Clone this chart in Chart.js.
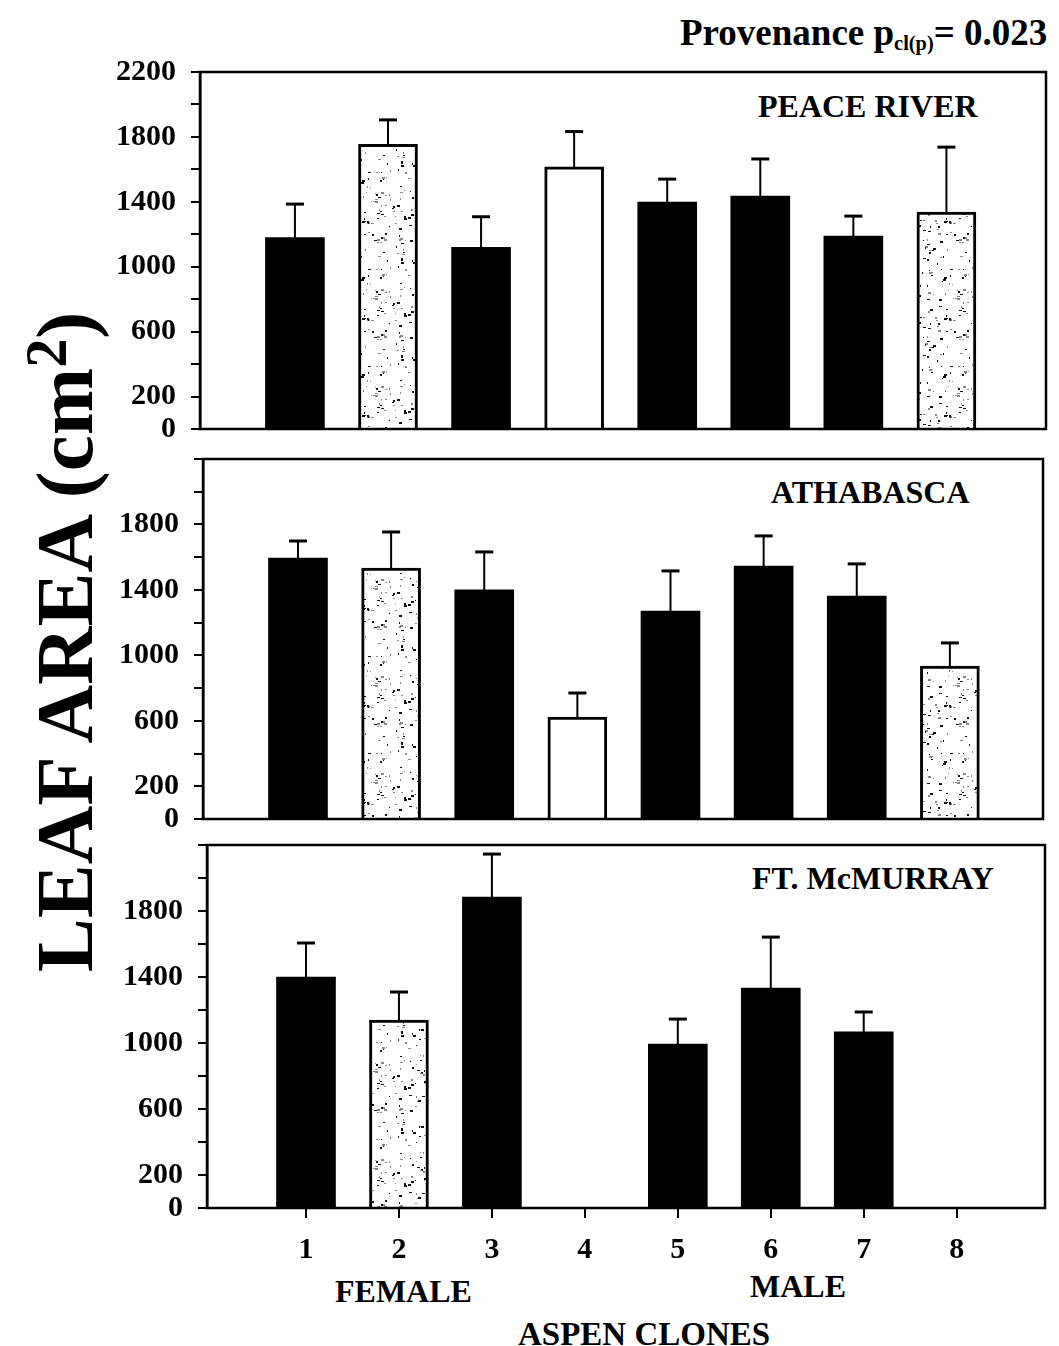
<!DOCTYPE html>
<html>
<head>
<meta charset="utf-8">
<script src="https://cdn.jsdelivr.net/npm/chart.js@4.4.1/dist/chart.umd.min.js"></script>
<style>
  body { margin: 0; background: #fff; }
  #page {
    position: relative; width: 1059px; height: 1346px; overflow: hidden;
    font-family: "Liberation Serif", "Times New Roman", serif; font-weight: bold; color: #000;
  }
  canvas { position: absolute; left: 0; }
  .lbl { position: absolute; white-space: nowrap; line-height: 1; }
  .lbl sub { font-size: 0.55em; vertical-align: -0.25em; }
  #ytitle {
    left: 62px; top: 642px; font-size: 81px;
    transform: translate(-50%, -50%) rotate(-90deg);
  }
  #ytitle sup { font-size: 0.72em; vertical-align: 0.45em; }
</style>
</head>
<body>
<div id="page">
  <div class="lbl" style="left:680px; top:14px; font-size:37px;">Provenance p<sub>cl(p)</sub>= 0.023</div>
  <div class="lbl" id="ytitle">LEAF AREA (cm<sup>2</sup>)</div>

  <div class="lbl" style="left:758px; top:90px; font-size:32px;">PEACE RIVER</div>
  <div class="lbl" style="left:771px; top:476px; font-size:32px;">ATHABASCA</div>
  <div class="lbl" style="left:752px; top:862px; font-size:32px;">FT. McMURRAY</div>

  <div class="lbl" style="left:335px; top:1275px; font-size:32px;">FEMALE</div>
  <div class="lbl" style="left:750px; top:1270px; font-size:32px;">MALE</div>
  <div class="lbl" style="left:518px; top:1318px; font-size:33px;">ASPEN CLONES</div>

  <canvas id="c1" width="1059" height="400" style="top:50px"></canvas>
  <canvas id="c2" width="1059" height="404" style="top:437px"></canvas>
  <canvas id="c3" width="1059" height="445" style="top:823px"></canvas>
</div>

<script>
// clones on the x axis
const CLONES = [1, 2, 3, 4, 5, 6, 7, 8];

// leaf area means and upper error (cm2)
const PEACE_MEAN = [1180, 1755, 1120, 1615, 1398, 1436, 1189, 1337];
const PEACE_ERR  = [206, 150, 188, 218, 142, 228, 123, 400];

const ATHA_MEAN = [1595, 1534, 1400, 623, 1271, 1546, 1363, 935];
const ATHA_ERR  = [104, 220, 232, 147, 245, 184, 196, 141];

const FTMC_MEAN = [1400, 1139, 1885, null, 994, 1333, 1067, null];
const FTMC_ERR  = [206, 170, 260, null, 151, 309, 121, null];

// y axis tick values and which ones get a label
const Y_TICKS = [0, 200, 400, 600, 800, 1000, 1200, 1400, 1600, 1800, 2000, 2200];
const Y_LABELS_TOP = [0, 200, 600, 1000, 1400, 1800, 2200];
const Y_LABELS = [0, 200, 600, 1000, 1400, 1800];

const FONT = { family: '"Liberation Serif", "Times New Roman", serif', weight: 'bold', size: 30 };

// fill style per clone: k = black, s = stippled, w = open
const CLONE_FILL = ['k', 's', 'k', 'w', 'k', 'k', 'k', 's'];

function stipple() {
    const c = document.createElement('canvas');
    c.width = 97; c.height = 97;
    const g = c.getContext('2d');
    g.fillStyle = '#fff';
    g.fillRect(0, 0, 97, 97);
    // small hash-based speckle texture
    let a = 1234567;
    const rnd = () => {
        a |= 0; a = a + 0x6D2B79F5 | 0;
        let t = Math.imul(a ^ a >>> 15, 1 | a);
        t = t + Math.imul(t ^ t >>> 7, 61 | t) ^ t;
        return ((t ^ t >>> 14) >>> 0) / 4294967296;
    };
    for (let i = 0; i < 180; i++) {
        g.fillStyle = rnd() < 0.55 ? '#111' : '#888';
        const w = 1 + Math.floor(rnd() * 3), h = 1 + Math.floor(rnd() * 2);
        g.fillRect(Math.floor(rnd() * 97), Math.floor(rnd() * 97), w, h);
    }
    return g.createPattern(c, 'repeat');
}
const STIPPLE = stipple();

const errorBars = {
    id: 'errorBars',
    afterDatasetsDraw(chart) {
        const ctx = chart.ctx;
        const ys = chart.scales.y;
        const ds = chart.data.datasets[0];
        chart.getDatasetMeta(0).data.forEach((bar, i) => {
            const v = ds.means[i], e = ds.errors[i];
            if (v == null || e == null) return;
            const yTop = ys.getPixelForValue(v + e);
            ctx.save();
            ctx.strokeStyle = '#000';
            ctx.lineWidth = 2;
            ctx.beginPath();
            ctx.moveTo(bar.x, bar.y);
            ctx.lineTo(bar.x, yTop);
            ctx.stroke();
            ctx.lineWidth = 3;
            ctx.beginPath();
            ctx.moveTo(bar.x - 9, yTop);
            ctx.lineTo(bar.x + 9, yTop);
            ctx.stroke();
            ctx.restore();
        });
    }
};

const frame = {
    id: 'frame',
    afterDraw(chart) {
        const a = chart.chartArea, ctx = chart.ctx;
        ctx.save();
        ctx.strokeStyle = '#000';
        ctx.lineWidth = 2.5;
        ctx.strokeRect(a.left, a.top, a.right - a.left, a.bottom - a.top);
        ctx.restore();
    }
};

function makePanel(id, means, errors, opt) {
    const fills = CLONE_FILL.map(f => f === 'k' ? '#000' : f === 's' ? STIPPLE : '#fff');
    const borders = CLONE_FILL.map(f => f === 'k' ? 0 : 3);
    new Chart(document.getElementById(id), {
        type: 'bar',
        data: {
            datasets: [{
                data: CLONES.map((c, i) => ({ x: c, y: means[i] })),
                means: means,
                errors: errors,
                backgroundColor: fills,
                borderColor: '#000',
                borderWidth: borders,
                barThickness: 59
            }]
        },
        options: {
            responsive: false,
            animation: false,
            events: [],
            layout: { padding: { top: opt.padTop, bottom: opt.padBottom, left: 0, right: 1059 - opt.right } },
            plugins: { legend: { display: false }, tooltip: { enabled: false } },
            scales: {
                x: {
                    type: 'linear',
                    min: opt.xMin,
                    max: opt.xMax,
                    offset: false,
                    display: opt.showX,
                    afterBuildTicks: s => { s.ticks = CLONES.map(v => ({ value: v })); },
                    afterFit: s => {
                        if (opt.showX) s.height = 60;
                        s.paddingLeft = 0; s.paddingRight = 0;
                    },
                    grid: { offset: false, drawOnChartArea: false, drawTicks: true, tickLength: 10, color: '#000', lineWidth: 2 },
                    border: { display: false },
                    ticks: { color: '#000', font: FONT, padding: 14, maxRotation: 0, autoSkip: false,
                             callback: v => String(v) }
                },
                y: {
                    min: 0,
                    max: 2200,
                    afterBuildTicks: s => { s.ticks = Y_TICKS.map(v => ({ value: v })); },
                    afterFit: s => {
                        s.width = opt.left;
                        s.paddingTop = 0; s.paddingBottom = 0;
                    },
                    grid: { drawOnChartArea: false, drawTicks: true, tickLength: 9, color: '#000', lineWidth: 2 },
                    border: { display: true, color: '#000', width: 2.5 },
                    ticks: { color: '#000', font: FONT, padding: 15, autoSkip: false,
                             callback: v => opt.labels.includes(v) ? String(v) : '' }
                }
            }
        },
        plugins: [frame, errorBars]
    });
}

makePanel('c1', PEACE_MEAN, PEACE_ERR, { left: 200, right: 1046, padTop: 22, padBottom: 21, xMin: -0.02, xMax: 9.07, showX: false, labels: Y_LABELS_TOP });
makePanel('c2', ATHA_MEAN, ATHA_ERR, { left: 203, right: 1043, padTop: 22, padBottom: 22, xMin: -0.02, xMax: 9.0, showX: false, labels: Y_LABELS });
makePanel('c3', FTMC_MEAN, FTMC_ERR, { left: 207, right: 1045, padTop: 22, padBottom: 0, xMin: -0.065, xMax: 8.95, showX: true, labels: Y_LABELS });
</script>
</body>
</html>
